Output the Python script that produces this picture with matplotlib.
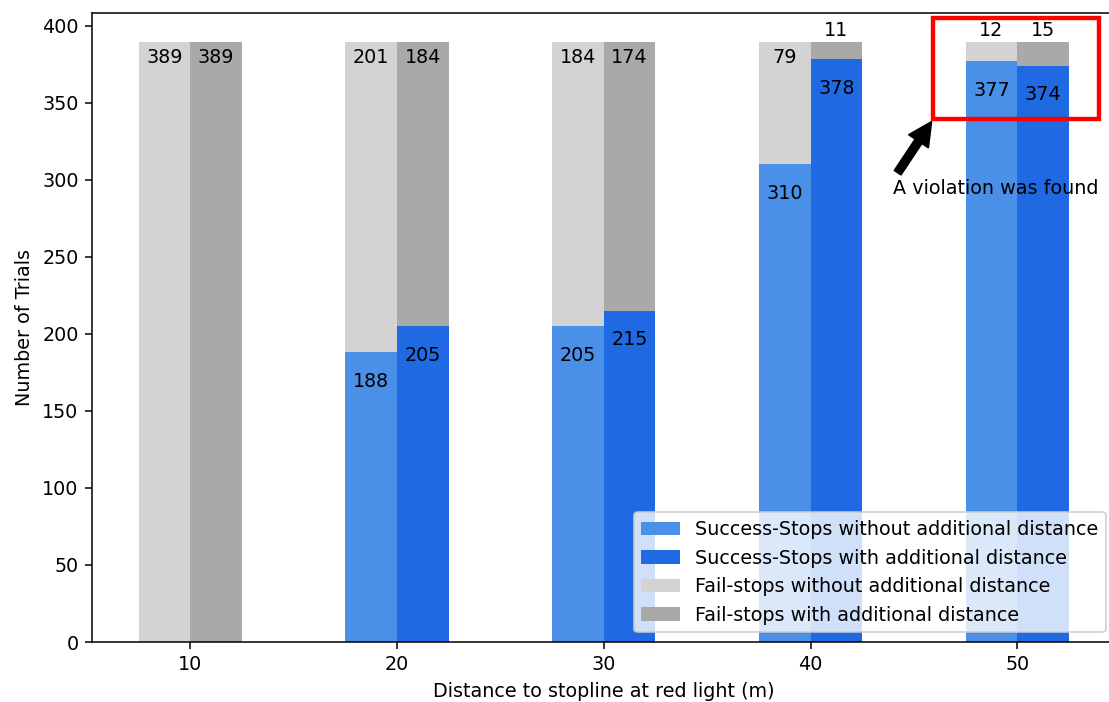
import matplotlib
matplotlib.use("Agg")
import matplotlib.pyplot as plt
import numpy as np
from matplotlib.patches import Rectangle

distances = [10, 20, 30, 40, 50]
success_without = [0, 188, 205, 310, 377]
success_with = [0, 205, 215, 378, 374]
fail_without = [389, 201, 184, 79, 12]
fail_with = [389, 184, 174, 11, 15]

LIGHT_BLUE = "#4a90e8"
DARK_BLUE = "#1f6ae2"
LIGHT_GREY = "#d3d3d3"
DARK_GREY = "#a9a9a9"

DPI = 138
W, H = 1109, 702

plt.rcParams["font.family"] = "DejaVu Sans"
plt.rcParams["font.size"] = 10

fig = plt.figure(figsize=(W / DPI, H / DPI), dpi=DPI)
# axes run slightly past the right edge of the canvas
ax = fig.add_axes([92 / W, 60 / H, 1023.5 / W, 629.5 / H])

x = np.array(distances, dtype=float)
width = 2.5
left = x - width / 2
right = x + width / 2

ax.bar(left, success_without, width, color=LIGHT_BLUE,
       label="Success-Stops without additional distance")
ax.bar(right, success_with, width, color=DARK_BLUE,
       label="Success-Stops with additional distance")
ax.bar(left, fail_without, width, bottom=success_without, color=LIGHT_GREY,
       label="Fail-stops without additional distance")
ax.bar(right, fail_with, width, bottom=success_with, color=DARK_GREY,
       label="Fail-stops with additional distance")
ax.set_xlim(5.25, 54.75)
ax.set_ylim(0, 408.45)


def label_stack(xs, success, fail):
    for xi, s, f in zip(xs, success, fail):
        if s > 0:
            ax.text(xi, s - 19, str(s), ha="center", va="center")
        top = s + f
        if f < 20:
            ax.text(xi, top + 8, str(f), ha="center", va="center")
        else:
            ax.text(xi, top - 10, str(f), ha="center", va="center")


label_stack(left, success_without, fail_without)
label_stack(right, success_with, fail_with)

ax.add_patch(Rectangle((45.94, 339.4), 8.03, 65.5, fill=False,
                       edgecolor="red", linewidth=2.3, clip_on=False))
ax.annotate("A violation was found", xy=(45.94, 339.4), xytext=(44, 294),
            va="center",
            arrowprops=dict(facecolor="black", shrink=0.05))

ax.set_xlabel("Distance to stopline at red light (m)")
ax.set_ylabel("Number of Trials")
ax.set_xticks(distances)
ax.legend(loc="lower right", framealpha=0.8)

fig.savefig("out.png", dpi=DPI)
